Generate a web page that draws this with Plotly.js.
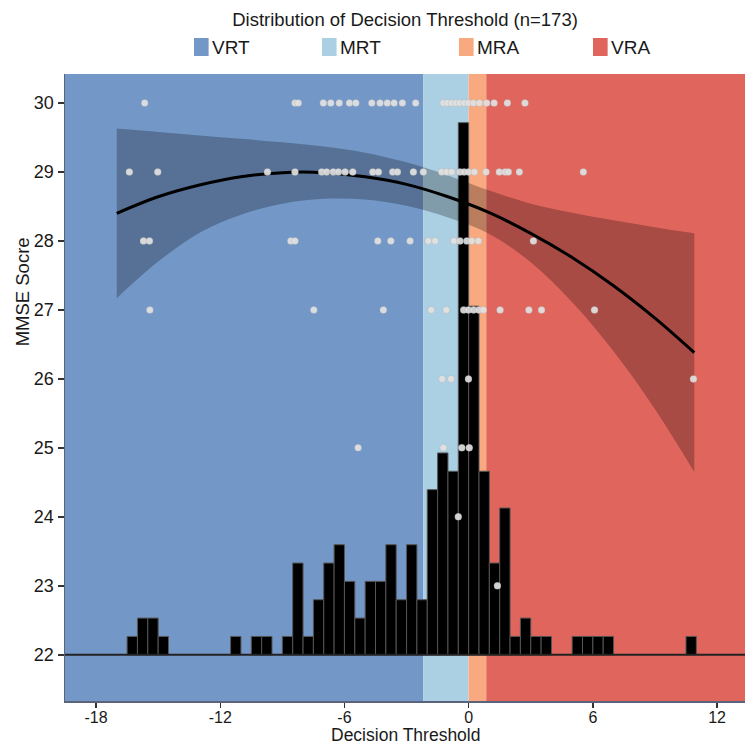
<!DOCTYPE html>
<html>
<head>
<meta charset="utf-8">
<script src="https://cdn.plot.ly/plotly-3.0.1.min.js"></script>
<style>html,body{margin:0;padding:0;background:#fff}</style>
</head>
<body>
<div id="chart" style="width:745px;height:746px"></div>
<script>
// ---- data ----
const regionNames = ['VRT', 'MRT', 'MRA', 'VRA'];
const regionColors = ['#7397C7', '#ABCFE3', '#F9A97F', '#E0655C'];
const regionEdges = [-2.2, 0, 0.85];

const xTicks = [-18, -12, -6, 0, 6, 12];
const yTicks = [22, 23, 24, 25, 26, 27, 28, 29, 30];

// histogram of decision threshold (bin start, count), 0.5-wide bins
const histBinStart = [-16.5, -16, -15.5, -15, -11.5, -10.5, -10, -9, -8.5, -8, -7.5, -7, -6.5, -6, -5.5, -5, -4.5, -4, -3.5, -3, -2.5, -2, -1.5, -1, -0.5, 0, 0.5, 1, 1.5, 2, 2.5, 3, 3.5, 5, 5.5, 6, 6.5, 10.5];
const histCounts = [1, 2, 2, 1, 1, 1, 1, 1, 5, 1, 3, 5, 6, 4, 2, 4, 4, 6, 3, 6, 3, 9, 11, 10, 29, 19, 10, 5, 8, 1, 2, 1, 1, 1, 1, 1, 1, 1];

// individual subjects: decision threshold at each MMSE score
const thr30 = [-15.65, -8.39, -8.23, -7.02, -6.66, -6.25, -5.76, -5.45, -4.68, -4.28, -3.93, -3.60, -3.20, -2.56, -1.22, -1.03, -0.82, -0.61, -0.42, -0.21, -0.01, 0.23, 0.52, 0.87, 1.23, 1.87, 2.72];
const thr29 = [-16.39, -15.02, -9.72, -8.39, -7.10, -6.86, -6.54, -6.29, -5.97, -5.60, -4.63, -4.36, -3.67, -3.44, -2.67, -2.19, -1.30, -1.06, -0.82, -0.42, -0.22, -0.01, 0.28, 0.84, 1.48, 1.76, 1.92, 2.45, 5.54];
const thr28 = [-15.71, -15.42, -8.59, -8.39, -4.39, -3.76, -2.83, -1.95, -1.62, -0.71, -0.42, -0.09, 0.15, 0.47, 3.13];
const thr27 = [-15.40, -7.48, -4.12, -1.81, -1.08, -0.24, -0.01, 0.24, 0.49, 0.71, 1.52, 2.91, 3.52, 6.08];
const thr26 = [-1.28, -0.85, -0.01, 10.86];
const thr25 = [-5.34, -1.22, -0.33, 0.03];
const thr24 = [-0.50];
const thr23 = [1.39];

// quadratic fit with confidence band
const fitX = [-17, -15, -13, -11, -9, -7, -5, -3, -1, 1, 3, 5, 7, 9, 10.9];
const fitY = [28.40, 28.64, 28.81, 28.93, 28.99, 28.99, 28.93, 28.82, 28.64, 28.41, 28.11, 27.76, 27.35, 26.88, 26.38];
const fitUpper = [29.63, 29.58, 29.53, 29.48, 29.43, 29.37, 29.28, 29.14, 28.95, 28.73, 28.54, 28.41, 28.30, 28.20, 28.11];
const fitLower = [27.17, 27.70, 28.12, 28.38, 28.54, 28.61, 28.60, 28.51, 28.34, 28.10, 27.69, 27.11, 26.40, 25.56, 24.65];

// ---- build ----
const xRange = [-19.5, 13.35];
const yRange = [21.33, 30.42];
const histBase = 22;
const histUnit = 0.266;
const binWidth = 0.5;
const FONT = 'Liberation Sans, Arial, Helvetica, sans-serif';

const scoreRows = [[30, thr30], [29, thr29], [28, thr28], [27, thr27], [26, thr26], [25, thr25], [24, thr24], [23, thr23]];
const ptX = [], ptY = [];
scoreRows.forEach(([s, arr]) => arr.forEach(v => { ptX.push(v); ptY.push(s); }));

const traces = [
  { type: 'scatter', mode: 'lines', x: fitX, y: fitLower, line: { width: 0, shape: 'spline' }, hoverinfo: 'skip', showlegend: false },
  { type: 'scatter', mode: 'lines', x: fitX, y: fitUpper, line: { width: 0, shape: 'spline' }, fill: 'tonexty', fillcolor: 'rgba(0,0,0,0.25)', hoverinfo: 'skip', showlegend: false },
  { type: 'bar', x: histBinStart.map(b => b + binWidth / 2), y: histCounts.map(c => c * histUnit), base: histBase, width: binWidth,
    marker: { color: '#000', line: { color: '#555', width: 1 } }, showlegend: false },
  { type: 'scatter', mode: 'lines', x: fitX, y: fitY, line: { color: '#000', width: 3, shape: 'spline' }, showlegend: false },
  { type: 'scatter', mode: 'markers', x: ptX, y: ptY,
    marker: { size: 7, color: 'rgba(226,226,226,0.92)', line: { color: 'rgba(150,150,150,0.5)', width: 0.5 } }, showlegend: false }
];

const bounds = [xRange[0]].concat(regionEdges, [xRange[1]]);
const shapes = regionNames.map((n, i) => ({
  type: 'rect', xref: 'x', yref: 'paper', x0: bounds[i], x1: bounds[i + 1], y0: 0, y1: 1,
  fillcolor: regionColors[i], line: { width: 0 }, layer: 'below'
}));
shapes.push({ type: 'line', xref: 'paper', yref: 'y', x0: 0, x1: 1, y0: histBase, y1: histBase, line: { color: '#222', width: 2 } });

// legend boxes (paper coordinates above plot)
const legendX = [0.1897, 0.3779, 0.5794, 0.7765];
const annotations = [];
regionNames.forEach((n, i) => {
  shapes.push({ type: 'rect', xref: 'paper', yref: 'paper', x0: legendX[i], x1: legendX[i] + 0.0215, y0: 1.0287, y1: 1.0574,
    fillcolor: regionColors[i], line: { width: 0 } });
  annotations.push({ xref: 'paper', yref: 'paper', x: legendX[i] + 0.0235, y: 1.043, xanchor: 'left', yanchor: 'middle',
    text: n, showarrow: false, font: { family: FONT, size: 19, color: '#1a1a1a' } });
});
annotations.push({ xref: 'paper', yref: 'paper', x: -0.063, y: 0.652, text: 'MMSE Socre', textangle: -90,
  showarrow: false, xanchor: 'center', yanchor: 'middle', font: { family: FONT, size: 18.5, color: '#1a1a1a' } });
annotations.push({ xref: 'paper', yref: 'paper', x: 0.5, y: -0.0718, text: 'Decision Threshold', borderpad: 0,
  showarrow: false, xanchor: 'center', yanchor: 'bottom', font: { family: FONT, size: 17.5, color: '#1a1a1a' } });

const layout = {
  width: 745, height: 746,
  margin: { l: 65, r: 0, t: 74, b: 45 },
  paper_bgcolor: '#fff', plot_bgcolor: '#fff',
  font: { family: FONT, color: '#1a1a1a' },
  title: { text: 'Distribution of Decision Threshold (n=173)', xref: 'paper', x: 0.5, xanchor: 'center',
    yref: 'container', y: 0.974, yanchor: 'middle', font: { family: FONT, size: 18.5, color: '#1a1a1a' } },
  xaxis: { range: xRange, tickvals: xTicks, ticktext: xTicks.map(String), ticks: 'outside', ticklen: 5, tickwidth: 1.5, tickcolor: '#333',
    showline: true, linecolor: 'rgba(50,60,90,0.8)', linewidth: 1.5, showgrid: false, zeroline: false,
    ticklabelstandoff: -4,
    tickfont: { family: FONT, size: 16, color: '#1a1a1a' } },
  yaxis: { range: yRange, tickvals: yTicks, ticks: 'outside', ticklen: 6, tickwidth: 1.5, tickcolor: '#333',
    showline: true, linecolor: 'rgba(50,60,90,0.8)', linewidth: 1.5, showgrid: false, zeroline: false,
    tickfont: { family: FONT, size: 18, color: '#1a1a1a' } },
  shapes: shapes,
  annotations: annotations,
  bargap: 0,
  showlegend: false
};

Plotly.newPlot('chart', traces, layout, { displayModeBar: false, staticPlot: true });
</script>
</body>
</html>
